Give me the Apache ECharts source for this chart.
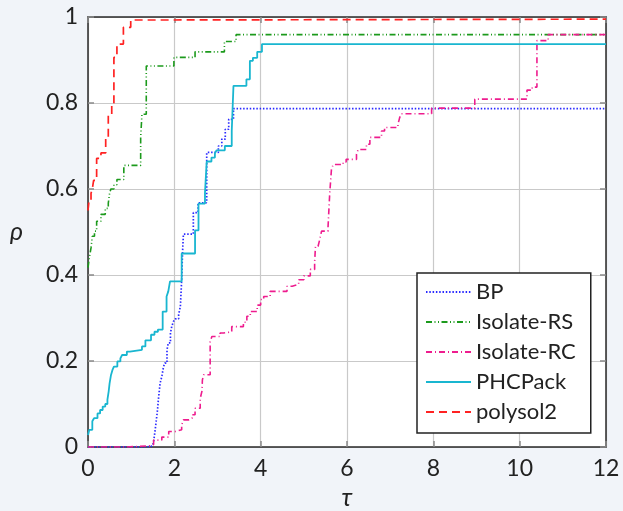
<!DOCTYPE html>
<html>
<head>
<meta charset="utf-8">
<script src="https://cdn.jsdelivr.net/npm/echarts@6/dist/echarts.min.js"></script>
<style>
  html, body { margin: 0; padding: 0; background: #f1f4f9; }
  #chart { width: 623px; height: 511px; }
</style>
</head>
<body>
<div id="chart"></div>
<script>
// Performance profiles: fraction of problems (rho) solved within a factor tau of the best solver.
const solverNames = ['BP', 'Isolate-RS', 'Isolate-RC', 'PHCPack', 'polysol2'];
const xTicks = [0, 2, 4, 6, 8, 10, 12];
const yTicks = [0, 0.2, 0.4, 0.6, 0.8, 1];

// [tau, rho] breakpoints of each step function
const bp = [[0,0],[1.36,0.002],[1.49,0.005],[1.52,0.012],[1.55,0.035],[1.58,0.06],[1.61,0.086],[1.63,0.11],
  [1.67,0.148],[1.71,0.164],[1.75,0.187],[1.78,0.195],[1.83,0.226],[1.86,0.242],[1.91,0.265],[1.94,0.28],
  [1.98,0.292],[2.02,0.298],[2.1,0.308],[2.14,0.327],[2.17,0.389],[2.19,0.451],[2.21,0.495],[2.44,0.545],
  [2.55,0.568],[2.75,0.685],[3.02,0.7],[3.1,0.716],[3.18,0.739],[3.26,0.762],[3.37,0.787],[12,0.787]];

const isolateRS = [[0,0.417],[0.03,0.44],[0.07,0.463],[0.1,0.49],[0.15,0.502],[0.2,0.525],[0.3,0.541],
  [0.4,0.555],[0.47,0.567],[0.5,0.59],[0.53,0.6],[0.6,0.61],[0.67,0.622],[0.83,0.655],[1.22,0.72],
  [1.25,0.774],[1.35,0.886],[1.99,0.906],[2.48,0.919],[3.16,0.943],[3.43,0.959],[12,0.959]];

const isolateRC = [[0,0],[0.9,0.003],[1.44,0.006],[1.52,0.016],[1.71,0.023],[1.87,0.036],[2.02,0.04],
  [2.17,0.051],[2.21,0.063],[2.33,0.067],[2.41,0.075],[2.48,0.09],[2.6,0.113],[2.64,0.13],[2.65,0.156],
  [2.68,0.168],[2.83,0.245],[2.87,0.257],[3.06,0.265],[3.14,0.268],[3.33,0.28],[3.6,0.29],[3.68,0.304],
  [3.76,0.315],[3.92,0.33],[4.0,0.343],[4.07,0.35],[4.22,0.362],[4.61,0.374],[4.73,0.378],[4.88,0.389],
  [5.0,0.398],[5.15,0.413],[5.25,0.43],[5.27,0.467],[5.33,0.471],[5.37,0.483],[5.41,0.502],[5.56,0.51],
  [5.6,0.59],[5.64,0.646],[5.68,0.657],[5.91,0.663],[5.98,0.669],[6.22,0.681],[6.26,0.692],[6.45,0.704],
  [6.53,0.72],[6.8,0.735],[6.87,0.743],[7.18,0.75],[7.22,0.766],[7.26,0.775],[7.96,0.788],[8.96,0.809],
  [10.17,0.83],[10.29,0.837],[10.4,0.945],[10.66,0.959],[12,0.959]];

const phcPack = [[0,0.028],[0.03,0.04],[0.1,0.06],[0.14,0.067],[0.22,0.078],[0.28,0.086],[0.34,0.094],
  [0.4,0.1],[0.45,0.11],[0.48,0.13],[0.5,0.148],[0.53,0.166],[0.57,0.18],[0.6,0.187],[0.68,0.199],
  [0.75,0.206],[0.79,0.214],[0.9,0.222],[0.97,0.226],[1.25,0.234],[1.33,0.248],[1.46,0.261],[1.54,0.268],
  [1.62,0.273],[1.73,0.315],[1.82,0.35],[1.86,0.362],[1.9,0.385],[2.17,0.45],[2.48,0.504],[2.56,0.566],
  [2.71,0.591],[2.75,0.664],[2.86,0.673],[2.94,0.683],[2.98,0.69],[3.17,0.7],[3.33,0.735],[3.37,0.84],
  [3.67,0.855],[3.75,0.898],[3.82,0.905],[3.92,0.919],[4.03,0.937],[12,0.937]];

const polysol2 = [[0,0.55],[0.02,0.57],[0.07,0.59],[0.1,0.6],[0.13,0.62],[0.2,0.671],[0.3,0.684],
  [0.41,0.72],[0.47,0.774],[0.55,0.8],[0.6,0.906],[0.67,0.937],[0.82,0.976],[0.99,0.993],[1.75,0.995],[12,0.995]];

const seriesData = [bp, isolateRS, isolateRC, phcPack, polysol2];
const seriesColors = ['#2a2aff', '#1c9a1c', '#ee1c8e', '#19b6d0', '#ff2222'];
const seriesDash = [[1.5, 1.8], [6, 2.5, 1, 2.5, 1, 2.5], [6, 3, 1, 3], 'solid', [8, 5]];
const seriesWidth = [1.7, 1.6, 1.6, 1.8, 1.7];

const FONT = 'Lato';
const axisLineStyle = { color: '#2a2a2a', width: 1.5 };
const tickStyle = { show: true, inside: true, length: 6, lineStyle: { color: '#8a8a8a', width: 1.5 } };

const xBase = {
  type: 'value', min: xTicks[0], max: xTicks[xTicks.length - 1], interval: 2,
  axisLine: { show: true, onZero: false, lineStyle: axisLineStyle },
  axisTick: tickStyle
};
const yBase = {
  type: 'value', min: yTicks[0], max: yTicks[yTicks.length - 1], interval: 0.2,
  axisLine: { show: true, onZero: false, lineStyle: axisLineStyle },
  axisTick: tickStyle
};

const chart = echarts.init(document.getElementById('chart'), null, { renderer: 'canvas' });
chart.setOption({
  backgroundColor: '#f1f4f9',
  animation: false,
  grid: {
    left: 88, right: 17, top: 17, bottom: 64,
    containLabel: false, outerBoundsMode: 'none',
    backgroundColor: '#ffffff', show: true, borderWidth: 0
  },
  xAxis: [
    Object.assign({}, xBase, {
      position: 'bottom',
      name: 'τ', nameLocation: 'middle', nameGap: 38,
      nameTextStyle: { fontFamily: FONT, fontStyle: 'italic', fontSize: 25, color: '#222' },
      axisLabel: { fontFamily: FONT, fontSize: 23, color: '#222', margin: 10,
        formatter: v => String(v) },
      splitLine: { show: true, lineStyle: { color: '#c9c9c9', width: 1.2 } }
    }),
    Object.assign({}, xBase, { position: 'top', axisLabel: { show: false }, splitLine: { show: false } })
  ],
  yAxis: [
    Object.assign({}, yBase, {
      position: 'left',
      name: 'ρ', nameLocation: 'middle', nameGap: 65, nameRotate: 0,
      nameTextStyle: { fontFamily: FONT, fontStyle: 'italic', fontSize: 25, color: '#222', padding: [22, 0, 0, 0] },
      axisLabel: { fontFamily: FONT, fontSize: 23, color: '#222', margin: 10,
        formatter: v => String(Math.round(v * 10) / 10) },
      splitLine: { show: true, lineStyle: { color: '#c9c9c9', width: 1.2 } }
    }),
    Object.assign({}, yBase, { position: 'right', axisLabel: { show: false }, splitLine: { show: false } })
  ],
  legend: {
    orient: 'vertical', left: 417, top: 273,
    padding: [8, 15, 10, 8],
    itemGap: 8, itemWidth: 45, itemHeight: 14,
    backgroundColor: '#ffffff', borderColor: '#222', borderWidth: 1.5, borderRadius: 0,
    itemStyle: { opacity: 0 },
    textStyle: { fontFamily: FONT, fontSize: 22, color: '#222', lineHeight: 22 },
    data: solverNames
  },
  series: solverNames.map((name, i) => ({
    name: name,
    type: 'line',
    step: 'end',
    xAxisIndex: 0,
    yAxisIndex: 0,
    data: seriesData[i],
    symbol: 'none',
    showSymbol: false,
    color: seriesColors[i],
    lineStyle: { color: seriesColors[i], width: seriesWidth[i], type: seriesDash[i] },
    z: 3 + i
  }))
});
</script>
</body>
</html>
